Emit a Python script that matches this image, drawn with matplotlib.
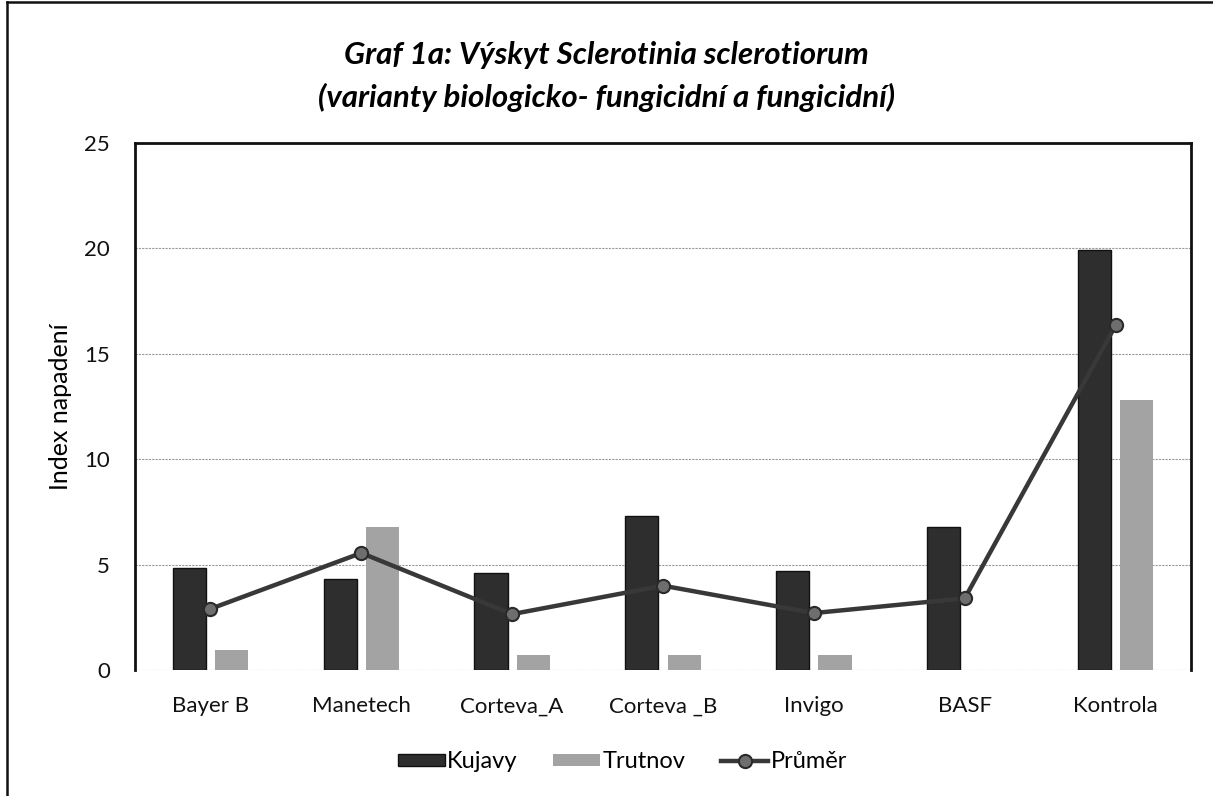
import matplotlib
matplotlib.use('Agg')
import matplotlib.pyplot as plt
from matplotlib.lines import Line2D
import numpy as np

plt.rcParams['font.family'] = ['Lato', 'DejaVu Sans']

# data
categories = ['Bayer B', 'Manetech', 'Corteva_A', 'Corteva _B', 'Invigo', 'BASF', 'Kontrola']
kujavy = [4.85, 4.3, 4.6, 7.3, 4.7, 6.8, 19.9]
trutnov = [0.95, 6.8, 0.7, 0.7, 0.7, 0.0, 12.8]
prumer = [2.9, 5.55, 2.65, 4.0, 2.7, 3.4, 16.35]

KUJAVY_COLOR = '#2e2e2e'
TRUTNOV_COLOR = '#a3a3a3'
LINE_COLOR = '#383838'
BAR_W = 0.22
OFFSET = 0.14

fig = plt.figure(figsize=(12.13, 7.96), dpi=100)
ax = fig.add_axes([0.1113, 0.1583, 0.8706, 0.6621])

x = np.arange(len(categories))
b1 = ax.bar(x - OFFSET, kujavy, BAR_W, color=KUJAVY_COLOR, edgecolor='#111111',
            linewidth=1, label='Kujavy', zorder=2)
b2 = ax.bar(x + OFFSET, trutnov, BAR_W, color=TRUTNOV_COLOR, edgecolor='none',
            label='Trutnov', zorder=2)
ln, = ax.plot(x, prumer, color=LINE_COLOR, linewidth=3.2, marker='o', markersize=9.5,
              markerfacecolor='#6e6e6e', markeredgecolor='#2a2a2a', markeredgewidth=1.5,
              label='Průměr', zorder=3)

ax.set_xlim(-0.5, len(categories) - 0.5)
ax.set_ylim(0, 25)
ax.set_yticks([0, 5, 10, 15, 20, 25])
ax.set_xticks(x)
ax.set_xticklabels(categories)
ax.tick_params(axis='both', length=0, labelsize=16, colors='#111111')
ax.tick_params(axis='x', pad=19)
ax.tick_params(axis='y', pad=18)

# light dotted gridlines, like the scanned Excel chart
ax.yaxis.grid(True, color='#9a9a9a', linewidth=0.8, linestyle=(0, (2, 1)), zorder=0)
ax.set_axisbelow(True)
for side in ['left', 'right', 'top']:
  ax.spines[side].set_color('#111111')
  ax.spines[side].set_linewidth(2)
ax.spines['bottom'].set_visible(False)

ax.set_ylabel('Index napadení', fontsize=18, labelpad=9)

fig.text(0.5, 0.931, 'Graf 1a: Výskyt Sclerotinia sclerotiorum',
         ha='center', va='center', fontsize=22.5, fontweight='bold', style='italic')
fig.text(0.5, 0.878, '(varianty biologicko- fungicidní a fungicidní)',
         ha='center', va='center', fontsize=22.5, fontweight='bold', style='italic')

fig.legend([b1, b2, ln], ['Kujavy', 'Trutnov', 'Průměr'], loc='center',
           bbox_to_anchor=(0.513, 0.043), ncol=3, frameon=False,
           fontsize=17, handlelength=2.0, handleheight=0.4, columnspacing=1.5,
           handletextpad=0.1)

# outer chart frame (only left and top edges are visible in the scan)
fig.add_artist(Line2D([7 / 1213, 7 / 1213], [0, 1 - 2 / 796], color='#111111',
                      linewidth=1.8, transform=fig.transFigure))
fig.add_artist(Line2D([7 / 1213, 1], [1 - 2 / 796, 1 - 2 / 796], color='#111111',
                      linewidth=1.8, transform=fig.transFigure))

fig.savefig('out.png', dpi=100)
